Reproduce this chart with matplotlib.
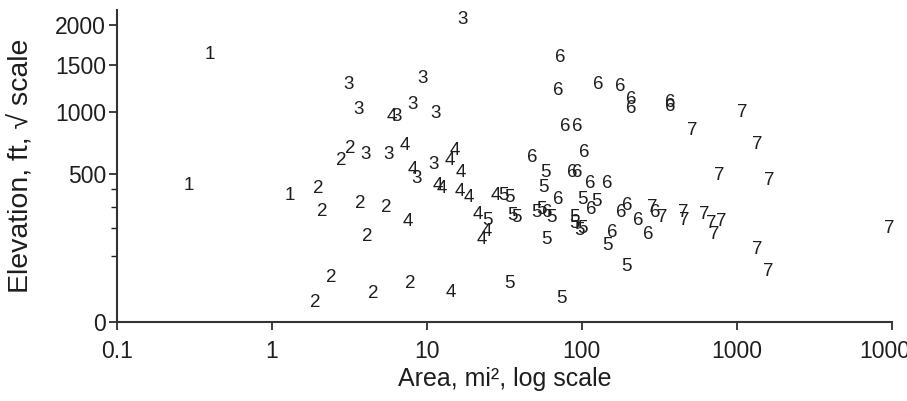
"""
Elevation vs drainage area, points labelled by group number.
Log x axis, square-root y axis.
"""

import matplotlib.pyplot as plt
import numpy as np

plt.rcParams["font.family"] = ["Liberation Sans", "DejaVu Sans"]

# values (area in mi^2, elevation in ft)
area_1 = [0.40, 0.29, 1.3]
elev_1 = [1620, 425, 365]

area_2 = [2.0, 2.1, 3.7, 5.5, 4.1, 2.4, 1.9, 4.5, 7.8, 2.8, 3.2]
elev_2 = [405, 275, 320, 300, 165, 44, 9, 19, 34, 595, 680]

area_3 = [17, 3.1, 3.6, 8.1, 6.4, 4.0, 5.7, 8.6, 9.4, 11.4, 11.1]
elev_3 = [2070, 1285, 1020, 1070, 955, 635, 640, 470, 1350, 990, 565]

area_4 = [5.9, 7.2, 8.1, 15.2, 14.1, 16.6, 11.8, 12.5, 16.3, 18.7, 27.9,
          21.3, 24.4, 22.6, 14.3, 7.5]
elev_4 = [955, 710, 525, 665, 595, 510, 425, 405, 385, 350, 365,
          260, 185, 153, 20, 227]

area_5 = [31.4, 34.3, 24.8, 35.9, 38.1, 58, 57, 51, 55, 64, 59, 34, 74,
          90, 101, 125, 90, 97, 101, 147, 195]
elev_5 = [365, 350, 236, 255, 250, 505, 413, 274, 285, 250, 153, 34, 13,
          222, 338, 327, 250, 192, 200, 134, 69]

area_6 = [73, 70, 127, 176, 210, 210, 375, 375, 78, 93, 48, 104, 87, 93,
          114, 147, 116, 70, 60, 181, 198, 230, 267, 158, 300]
elev_6 = [1590, 1220, 1275, 1255, 1120, 1030, 1090, 1050, 870, 870, 617,
          648, 510, 510, 438, 438, 285, 338, 274, 274, 310, 236, 172, 180,
          274]

area_7 = [513, 1080, 1365, 776, 1630, 9700, 1365, 1607, 287, 333, 449, 462,
          622, 690, 800, 721]
elev_7 = [836, 1000, 711, 490, 457, 200, 118, 57, 295, 250, 274, 236,
          260, 222, 227, 172]

groups = [area_1, area_2, area_3, area_4, area_5, area_6, area_7]
elevs = [elev_1, elev_2, elev_3, elev_4, elev_5, elev_6, elev_7]

x_ticks = [0.1, 1, 10, 100, 1000, 10000]
x_tick_labels = ["0.1", "1", "10", "100", "1000", "10000"]
y_ticks = [0, 500, 1000, 1500, 2000]
y_minor = [100, 200, 300, 400]

ink = "#1e1e1e"

fig = plt.figure(figsize=(9.07, 4.01), dpi=100)
ax = fig.add_axes([0.129, 0.197, 0.854, 0.778])

ax.set_xscale("log")
ax.set_yscale("function",
              functions=(lambda v: np.sqrt(np.clip(v, 0, None)), lambda v: v ** 2))
ax.set_xlim(0.1, 10000)
ax.set_ylim(0, 2208)

for num, (xs, ys) in enumerate(zip(groups, elevs), start=1):
    for x, y in zip(xs, ys):
        ax.text(x, y, str(num), ha="center", va="center", fontsize=13.5,
                color=ink)

ax.set_xticks(x_ticks)
ax.set_xticklabels(x_tick_labels)
ax.xaxis.set_minor_locator(plt.NullLocator())
ax.set_yticks(y_ticks)
ax.set_yticks(y_minor, minor=True)
ax.tick_params(axis="both", which="major", labelsize=16.5, length=6, width=1.2,
               colors=ink)
ax.tick_params(axis="x", which="major", pad=7)
ax.tick_params(axis="y", which="major", pad=2)
ax.tick_params(axis="y", which="minor", length=4, width=1.0, colors=ink)

for side in ["top", "right"]:
    ax.spines[side].set_visible(False)
for side in ["left", "bottom"]:
    ax.spines[side].set_color("#333333")
    ax.spines[side].set_linewidth(1.5)

ax.set_xlabel("Area, mi², log scale", fontsize=18, color=ink, labelpad=3)
ax.set_ylabel("Elevation, ft, √ scale", fontsize=20.5, color=ink)
ax.yaxis.set_label_coords(-0.106, 0.5)

fig.savefig("out.png", dpi=100)
plt.close(fig)
